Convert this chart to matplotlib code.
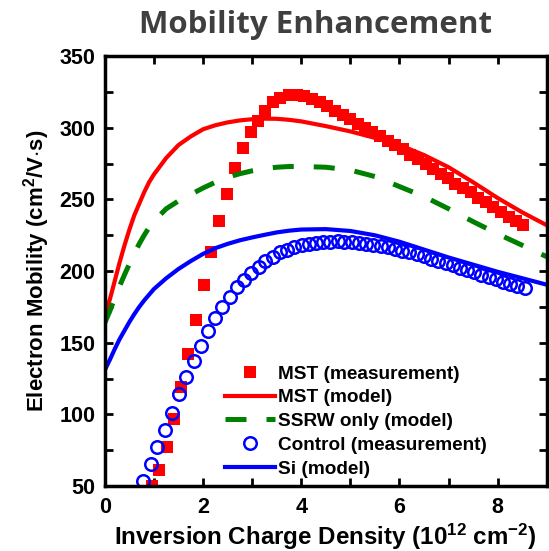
import matplotlib
matplotlib.use("Agg")
import matplotlib.pyplot as plt
from matplotlib.ticker import MultipleLocator

plt.rcParams['font.family'] = ['Liberation Sans', 'DejaVu Sans']
plt.rcParams['font.weight'] = 'bold'
plt.rcParams['mathtext.fontset'] = 'custom'
plt.rcParams['mathtext.rm'] = 'Liberation Sans:bold'
plt.rcParams['mathtext.default'] = 'rm'

# MST measured mobility
mst_ns = [0.97, 1.11, 1.26, 1.41, 1.56, 1.70, 1.86, 2.01, 2.16, 2.33,
          2.49, 2.65, 2.81, 2.97, 3.12, 3.27, 3.42, 3.57, 3.74, 3.91,
          4.06, 4.22, 4.38, 4.53, 4.68, 4.84, 4.99, 5.15, 5.30, 5.45,
          5.61, 5.76, 5.91, 6.07, 6.22, 6.38, 6.53, 6.68, 6.84, 6.99,
          7.14, 7.30, 7.45, 7.60, 7.76, 7.91, 8.07, 8.22, 8.37, 8.52]
mst_mu = [50, 61, 77, 97, 119, 142, 166, 190, 213, 235,
          254, 272, 286, 297, 305, 312, 318, 321, 323, 323,
          322, 320, 318, 315, 312, 309, 306, 303, 300, 297,
          294, 291, 288, 285, 281, 278, 275, 271, 268, 265,
          261, 258, 255, 251, 248, 245, 241, 238, 235, 232]

# control (Si) measured mobility
ctl_ns = [0.78, 0.93, 1.07, 1.22, 1.37, 1.51, 1.66, 1.81, 1.95, 2.10,
          2.25, 2.39, 2.54, 2.69, 2.83, 2.98, 3.13, 3.27, 3.42, 3.57,
          3.71, 3.86, 4.01, 4.15, 4.30, 4.45, 4.59, 4.74, 4.88, 5.03,
          5.18, 5.32, 5.47, 5.62, 5.76, 5.91, 6.06, 6.20, 6.35, 6.50,
          6.64, 6.79, 6.94, 7.08, 7.23, 7.38, 7.52, 7.67, 7.82, 7.96,
          8.11, 8.26, 8.40, 8.55]
ctl_mu = [53.6, 65, 77, 89, 101, 114, 126, 137, 148, 158,
          167, 175, 182, 189, 194, 199, 203, 207, 210, 213,
          215, 216.5, 218, 219, 219.8, 220.3, 220.6, 220.7, 220.6, 220.3,
          219.8, 219.2, 218.4, 217.5, 216.5, 215.4, 214.2, 213, 211.6, 210.2,
          208.7, 207.2, 205.6, 204, 202.4, 200.8, 199.2, 197.6, 196, 194.3,
          192.7, 191.1, 189.5, 188]

# model curves
model_ns = [0, 0.1, 0.2, 0.3, 0.4, 0.5, 0.6, 0.7, 0.8, 0.9, 1.0,
            1.25, 1.5, 1.75, 2.0, 2.25, 2.5, 2.75, 3.0, 3.25, 3.5, 3.75,
            4.0, 4.5, 5.0, 5.5, 6.0, 6.5, 7.0, 7.5, 8.0, 8.5, 9.0]
mst_model = [170, 180, 193, 206, 218, 229, 239, 247, 255, 262, 267.5,
             279, 288, 294, 299, 301.8, 303.8, 305.2, 306, 306.4, 306.3, 305.6,
             304.5, 301.2, 297.5, 293, 288, 281, 272.5, 262, 251, 241, 232]
ssrw_model = [164, 172, 181, 189.5, 197.5, 205, 212.5, 219, 225, 230.5, 235,
              243.5, 249, 253.5, 258, 262, 265.5, 268, 270, 271.5, 272.5, 273,
              273, 272.5, 270.5, 266, 259, 252, 243.5, 234.5, 226, 218, 210]
si_model = [131, 138, 145.5, 152.5, 158.5, 164.5, 170, 175, 179.5, 183.5, 187.5,
            195, 201.5, 207, 212, 216, 219, 221.5, 223.5, 225.3, 227, 228.2,
            229, 229.3, 228, 225, 220.5, 215, 209.5, 204.5, 199.5, 195, 190.5]

fig = plt.figure(figsize=(5.49, 5.51), dpi=100)
ax = fig.add_axes([0.191, 0.118, 0.805, 0.780])

ax.plot(mst_ns, mst_mu, 's', color='#ff0000', ms=8.5, mew=0,
        label='MST (measurement)')
ax.plot(model_ns, mst_model, '-', color='#ff0000', lw=3, label='MST (model)')
ax.plot(model_ns, ssrw_model, '--', color='#008000', lw=3.6, dashes=(4.2, 4.0),
        label='SSRW only (model)')
ax.plot(ctl_ns, ctl_mu, 'o', color='#0000ff', ms=9, mfc='none', mew=1.8,
        label='Control (measurement)')
ax.plot(model_ns, si_model, '-', color='#0000ff', lw=3, label='Si (model)')

ax.set_xlim(0, 9)
ax.set_ylim(50, 350)
ax.xaxis.set_major_locator(MultipleLocator(2))
ax.xaxis.set_minor_locator(MultipleLocator(1))
ax.yaxis.set_major_locator(MultipleLocator(50))
ax.yaxis.set_minor_locator(MultipleLocator(25))
ax.tick_params(which='both', direction='in', top=True, right=True,
               width=2, length=6, labelsize=15.5)
ax.tick_params(axis='y', pad=7)
ax.tick_params(axis='x', pad=8)
for s in ax.spines.values():
    s.set_linewidth(2.5)

ax.set_xlabel('Inversion Charge Density (10$^{12}$ cm$^{-2}$)',
              fontsize=17.4, fontweight='bold', labelpad=2.5)
ax.set_ylabel('Electron Mobility (cm$^2$/V$\\cdot$s)',
              fontsize=16, fontweight='bold', labelpad=5)
fig.text(0.574, 1 - 33 / 551, 'Mobility Enhancement', fontsize=22.5,
         fontweight='bold', family='Open Sans', color='#3f3f3f',
         ha='center', va='baseline')

ax.legend(loc='upper left', bbox_to_anchor=(0.272, 0.281), frameon=False,
          fontsize=13.7, handlelength=2.6, handletextpad=0.2, labelspacing=0.34,
          borderpad=0, borderaxespad=0, numpoints=1)

fig.savefig('out.png', dpi=100)
